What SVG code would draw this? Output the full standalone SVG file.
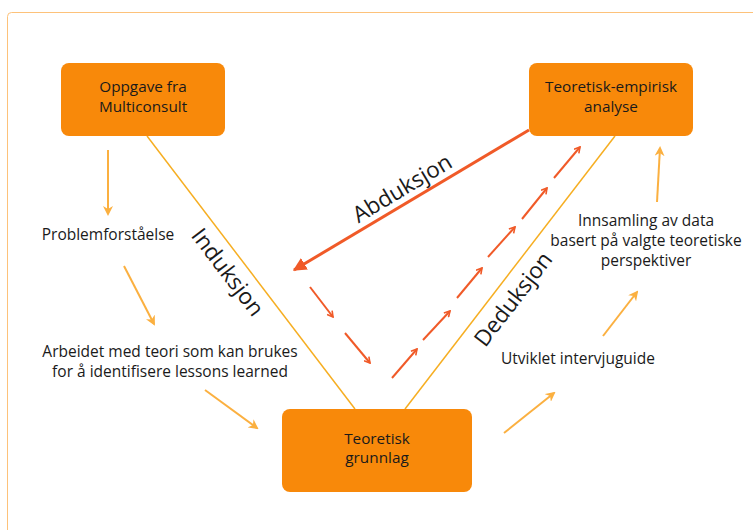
<svg xmlns="http://www.w3.org/2000/svg" width="753" height="530" viewBox="0 0 753 530">
<style>
.box{fill:#F8890A}
.bt{font-family:"Open Sans","Noto Sans",sans-serif;font-size:15.3px;fill:#1a1a1a;text-anchor:middle}
.t{font-family:"Open Sans","Noto Sans",sans-serif;font-size:15.5px;fill:#1a1a1a;text-anchor:middle}
.big{font-family:"Open Sans","Noto Sans",sans-serif;font-size:22.5px;fill:#1a1a1a;text-anchor:middle}
.side{stroke:#F6AE22;stroke-width:1.5;fill:none}
.lo{stroke:#FBB040;stroke-width:2;fill:none;marker-end:url(#ah)}
.rd{stroke:#F05A28;stroke-width:2;fill:none;marker-end:url(#rh)}
</style>
<defs>
<marker id="ah" viewBox="0 0 10 10" refX="8" refY="5" markerWidth="5" markerHeight="5" orient="auto" markerUnits="strokeWidth">
<path d="M0,0 L10,5 L0,10 L3,5 z" fill="#FBB040"/>
</marker>
<marker id="rh" viewBox="0 0 10 10" refX="9" refY="5" markerWidth="4" markerHeight="4" orient="auto" markerUnits="strokeWidth">
<path d="M2,1 L9,5 L2,9" fill="none" stroke="#F05A28" stroke-width="2"/>
</marker>
<marker id="bh" viewBox="0 0 10 10" refX="9" refY="5" markerWidth="4.5" markerHeight="4.5" orient="auto" markerUnits="strokeWidth">
<path d="M0,0 L10,5 L0,10 z" fill="#F05A28"/>
</marker>
</defs>
<rect x="7.5" y="12.5" width="800" height="600" rx="4" fill="#fff" stroke="#FDC27A" stroke-width="1"/>
<g id="connectors">
<line class="side" x1="147" y1="136" x2="355" y2="409"/>
<line class="side" x1="615" y1="136" x2="405" y2="409"/>
<line x1="529" y1="130" x2="294" y2="270" stroke="#F05A28" stroke-width="3" marker-end="url(#bh)"/>
<line class="rd" x1="310" y1="287" x2="333" y2="317"/>
<line class="rd" x1="345" y1="333" x2="370" y2="363"/>
<line class="rd" x1="392" y1="378" x2="417" y2="349"/>
<line class="rd" x1="423" y1="340" x2="450" y2="311"/>
<line class="rd" x1="457" y1="298" x2="482" y2="268"/>
<line class="rd" x1="488" y1="257" x2="515" y2="227"/>
<line class="rd" x1="522" y1="219" x2="547" y2="188"/>
<line class="rd" x1="554" y1="178" x2="580" y2="147"/>
<line class="lo" x1="108" y1="150" x2="108" y2="214"/>
<line class="lo" x1="124" y1="266" x2="154" y2="324"/>
<line class="lo" x1="205" y1="390" x2="257" y2="428"/>
<line class="lo" x1="504" y1="433" x2="554" y2="393"/>
<line class="lo" x1="603" y1="336" x2="637" y2="292"/>
<line class="lo" x1="657" y1="202" x2="660" y2="148"/>
</g>
<g id="oppgave">
<rect class="box" x="61" y="63" width="164" height="73" rx="8"/>
<text class="bt" x="143" y="92">Oppgave fra</text>
<text class="bt" x="143" y="112">Multiconsult</text>
</g>
<g id="analyse">
<rect class="box" x="529" y="63" width="164" height="73" rx="8"/>
<text class="bt" x="611" y="92">Teoretisk-empirisk</text>
<text class="bt" x="611" y="112">analyse</text>
</g>
<g id="grunnlag">
<rect class="box" x="282" y="409" width="190" height="83" rx="8"/>
<text class="bt" x="377" y="444">Teoretisk</text>
<text class="bt" x="377" y="463">grunnlag</text>
</g>
<g id="problem"><text class="t" x="108" y="240">Problemforståelse</text></g>
<g id="arbeidet">
<text class="t" x="170" y="357">Arbeidet med teori som kan brukes</text>
<text class="t" x="170" y="377">for å identifisere lessons learned</text>
</g>
<g id="innsamling">
<text class="t" x="646" y="226">Innsamling av data</text>
<text class="t" x="646" y="246">basert på valgte teoretiske</text>
<text class="t" x="646" y="266">perspektiver</text>
</g>
<g id="utviklet"><text class="t" x="578" y="364">Utviklet intervjuguide</text></g>
<g id="labels">
<text class="big" transform="translate(402,188) rotate(-30.9)" y="8">Abduksjon</text>
<text class="big" transform="translate(228,272) rotate(52.7)" y="8">Induksjon</text>
<text class="big" transform="translate(513,299) rotate(-52.4)" y="8">Deduksjon</text>
</g>
</svg>
